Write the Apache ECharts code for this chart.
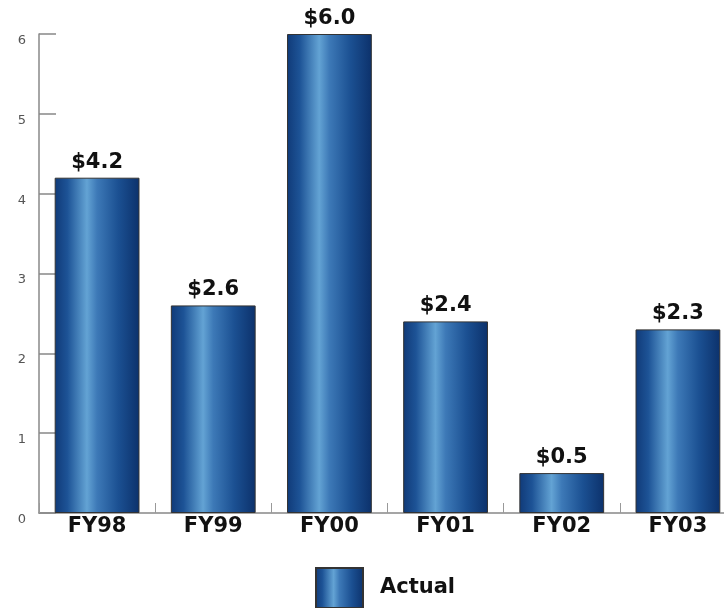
<!DOCTYPE html>
<html><head><meta charset="utf-8">
<script src="https://cdn.jsdelivr.net/npm/echarts@6/dist/echarts.min.js"></script>
<style>html,body{margin:0;padding:0;background:#fff}#c{width:724px;height:608px}</style>
</head><body><div id="c"></div>
<script>
const categories = ['FY98','FY99','FY00','FY01','FY02','FY03'];
const actual = [4.2, 2.6, 6.0, 2.4, 0.5, 2.3];
const yTicks = [0,1,2,3,4,5,6];

const grad = new echarts.graphic.LinearGradient(0,0,1,0,[
  {offset:0,color:'#103a78'},
  {offset:0.15,color:'#1d5396'},
  {offset:0.38,color:'#63a3d4'},
  {offset:0.5,color:'#3d79b7'},
  {offset:0.75,color:'#1b5092'},
  {offset:1,color:'#0c316b'}
]);
const font = 'DejaVu Sans';
const chart = echarts.init(document.getElementById('c'));
chart.setOption({
  animation:false,
  textStyle:{fontFamily:font},
  grid:{left:39, top:34, bottom:95, width:697, outerBoundsMode:'none', containLabel:false},
  legend:{
    bottom:-6, left:310, itemWidth:47, itemHeight:40, itemGap:18,
    textStyle:{fontFamily:font,fontWeight:'bold',fontSize:21,color:'#111',padding:[0,0,0,12]},
    data:[{name:'Actual', icon:'rect'}]
  },
  xAxis:{
    type:'category', data:categories,
    axisLine:{lineStyle:{color:'#888',width:1.5}},
    axisTick:{show:true,inside:true,length:10,lineStyle:{color:'#999'}},
    axisLabel:{fontFamily:font,fontWeight:'bold',fontSize:21,color:'#111',margin:3}
  },
  yAxis:{
    type:'value', min:yTicks[0], max:yTicks[yTicks.length-1], interval:1,
    splitLine:{show:false},
    axisLine:{show:true,lineStyle:{color:'#888',width:1.5}},
    axisTick:{show:true,inside:true,length:17,lineStyle:{color:'#888',width:1.5}},
    axisLabel:{fontFamily:font,fontSize:13,color:'#555',margin:13,verticalAlign:'top'}
  },
  series:[{
    name:'Actual', type:'bar', data:actual, barCategoryGap:'27%',
    itemStyle:{color:grad,borderColor:'#333',borderWidth:1},
    label:{show:true,position:'top',distance:5,fontFamily:font,fontWeight:'bold',fontSize:21,color:'#111',
      formatter:p=>'$'+p.value.toFixed(1)}
  }]
});
</script></body></html>
